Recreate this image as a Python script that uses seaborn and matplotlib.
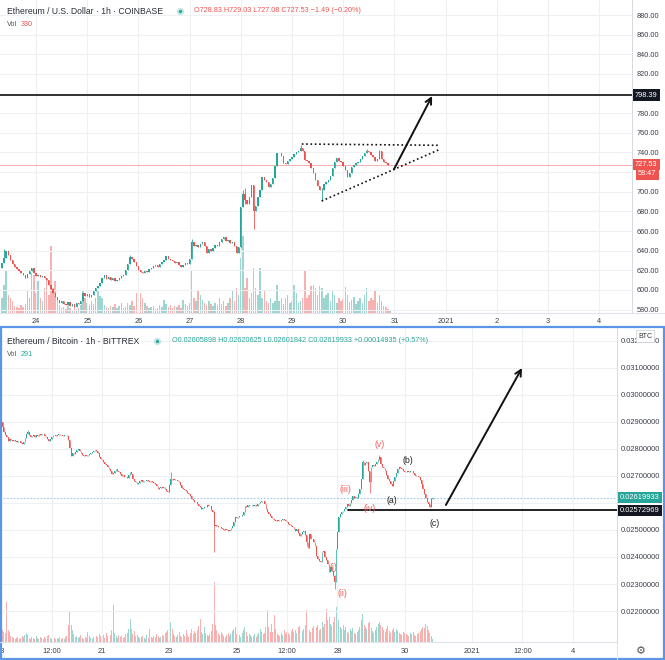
import numpy as np
import pandas as pd
import matplotlib
matplotlib.use("Agg")
import matplotlib.pyplot as plt
import matplotlib.transforms as mtransforms
import seaborn as sns

# ------------------------------------------------------------------ data
# ETH/USD hourly closes (Coinbase), starting Dec 23 08:00
top_close = [
    627, 633, 640, 636, 630, 626, 623, 621, 619, 617,
    615, 612, 616, 619, 622, 617, 614, 615, 613, 614,
    612, 610, 605, 601, 597, 593, 590, 587, 589, 586,
    585, 588, 584, 586, 583, 587, 586, 589, 597, 594,
    596, 593, 595, 599, 602, 604, 607, 612, 615, 611,
    613, 610, 612, 609, 610, 612, 614, 615, 620, 626,
    634, 631, 628, 624, 620, 618, 617, 619, 618, 621,
    622, 624, 625, 623, 626, 628, 630, 635, 632, 630,
    629, 627, 628, 625, 623, 625, 627, 626, 632, 649,
    645, 646, 644, 647, 649, 645, 638, 642, 640, 643,
    646, 645, 649, 652, 654, 650, 651, 648, 649, 645,
    638, 644, 684, 698, 692, 688, 695, 707, 680, 685,
    695, 702, 715, 712, 710, 705, 708, 714, 726, 739,
    739, 736, 729, 728, 731, 733, 735, 738, 740, 742,
    745, 741, 732, 731, 729, 724, 719, 712, 706, 702,
    702, 708, 710, 712, 716, 724, 730, 734, 731, 730,
    726, 722, 715, 719, 725, 727, 729, 730, 733, 736,
    739, 742, 740, 737, 735, 731, 733, 742, 733, 730,
    729, 727, 727.53,
]
top_first_open = 622
top_vol = [
    1500, 2800, 4200, 1800, 1500, 1200, 700, 600, 500, 800,
    600, 900, 2200, 1500, 4000, 3800, 2000, 3200, 1500, 1200,
    2500, 3500, 1800, 6700, 2500, 3200, 1200, 800, 500, 600,
    400, 700, 500, 300, 600, 400, 500, 800, 2200, 1500,
    1000, 800, 1200, 900, 1500, 2300, 1700, 1500, 800, 600,
    500, 700, 600, 900, 500, 700, 1000, 500, 600, 1000,
    800, 1200, 700, 2000, 900, 2000, 1500, 1000, 700, 500,
    600, 700, 400, 500, 800, 600, 1300, 900, 600, 800,
    500, 700, 600, 800, 500, 1300, 900, 700, 1000, 4200,
    1500, 1200, 2200, 1800, 1300, 1000, 800, 1200, 900, 700,
    1000, 800, 1500, 900, 1200, 700, 1000, 1500, 2200, 1200,
    2500, 1800, 5500, 7700, 2500, 3500, 1500, 2000, 4500, 2500,
    1800, 4500, 1500, 2200, 1200, 1000, 1500, 1000, 1200, 2800,
    1200, 1500, 900, 1500, 1800, 1000, 1200, 2800, 2000, 1000,
    1200, 1500, 4300, 1500, 1800, 2700, 2800, 2500, 1800, 2700,
    2500, 1500, 1800, 2000, 1200, 2200, 1800, 1000, 1500, 1200,
    1400, 2600, 1800, 1100, 1300, 1600, 900, 1200, 1500, 1000,
    1800, 2500, 1200, 1500, 1300, 2200, 1000, 1800, 1200, 700,
    600, 400, 330,
]
# notable wicks: hour index -> (high, low)
top_wicks = {1: (642, 627), 60: (636, 626), 89: (652, 632), 112: (684, 643),
             113: (702, 684), 114: (704, 688), 118: (690, 662), 140: (748, 742),
             150: (704, 691), 171: (744, 739), 177: (743, 733)}
top_tick_hours = [16, 40, 64, 88, 112, 136, 160, 184, 208, 232, 256, 280]
top_tick_labels = ["24", "25", "26", "27", "28", "29", "30", "31", "2021", "2", "3", "4"]
top_price_ticks = [580, 600, 620, 640, 660, 680, 700, 720, 740, 760, 780, 800, 820, 840, 860, 880]
top_resistance = 798.39
top_last = 727.53

# ETH/BTC hourly closes (Bittrex), starting Dec 18 00:00
bot_close = [
    0.02899, 0.02880, 0.02862, 0.02850, 0.02845, 0.02831, 0.02838, 0.02833, 0.02829, 0.02834,
    0.02830, 0.02826, 0.02831, 0.02828, 0.02822, 0.02818, 0.02826, 0.02840, 0.02855, 0.02862,
    0.02852, 0.02845, 0.02849, 0.02851, 0.02846, 0.02850, 0.02848, 0.02854, 0.02852, 0.02857,
    0.02855, 0.02849, 0.02843, 0.02836, 0.02830, 0.02838, 0.02846, 0.02853, 0.02852, 0.02848,
    0.02851, 0.02854, 0.02850, 0.02853, 0.02849, 0.02852, 0.02850, 0.02847, 0.02832, 0.02805,
    0.02775, 0.02786, 0.02781, 0.02790, 0.02798, 0.02800, 0.02792, 0.02784, 0.02777, 0.02775,
    0.02779, 0.02773, 0.02776, 0.02781, 0.02785, 0.02788, 0.02791, 0.02796, 0.02794, 0.02785,
    0.02770, 0.02764, 0.02758, 0.02751, 0.02745, 0.02739, 0.02733, 0.02726, 0.02718, 0.02707,
    0.02712, 0.02720, 0.02726, 0.02719, 0.02714, 0.02708, 0.02701, 0.02704, 0.02698, 0.02695,
    0.02693, 0.02702, 0.02714, 0.02707, 0.02690, 0.02683, 0.02676, 0.02670, 0.02674, 0.02680,
    0.02684, 0.02679, 0.02682, 0.02680, 0.02685, 0.02681, 0.02678, 0.02680, 0.02676, 0.02673,
    0.02670, 0.02662, 0.02652, 0.02656, 0.02660, 0.02655, 0.02658, 0.02650, 0.02643, 0.02640,
    0.02668, 0.02689, 0.02686, 0.02689, 0.02684, 0.02686, 0.02683, 0.02676, 0.02668, 0.02657,
    0.02652, 0.02648, 0.02645, 0.02638, 0.02633, 0.02627, 0.02615, 0.02610, 0.02602, 0.02605,
    0.02596, 0.02590, 0.02585, 0.02578, 0.02582, 0.02587, 0.02584, 0.02592, 0.02590, 0.02588,
    0.02575, 0.02566, 0.02516, 0.02520, 0.02516, 0.02512, 0.02510, 0.02506, 0.02504, 0.02500,
    0.02503, 0.02499, 0.02497, 0.02501, 0.02508, 0.02516, 0.02530, 0.02547, 0.02543, 0.02547,
    0.02551, 0.02553, 0.02556, 0.02566, 0.02590, 0.02587, 0.02592, 0.02588, 0.02590, 0.02594,
    0.02590, 0.02592, 0.02589, 0.02596, 0.02600, 0.02603, 0.02608, 0.02606, 0.02595, 0.02578,
    0.02568, 0.02559, 0.02552, 0.02546, 0.02541, 0.02538, 0.02535, 0.02538, 0.02535, 0.02533,
    0.02537, 0.02541, 0.02538, 0.02532, 0.02529, 0.02524, 0.02520, 0.02516, 0.02510, 0.02503,
    0.02497, 0.02502, 0.02490, 0.02478, 0.02485, 0.02492, 0.02497, 0.02480, 0.02454, 0.02435,
    0.02485, 0.02467, 0.02466, 0.02455, 0.02442, 0.02405, 0.02393, 0.02386, 0.02380, 0.02417,
    0.02423, 0.02399, 0.02390, 0.02374, 0.02343, 0.02362, 0.02350, 0.02331, 0.02306, 0.02430,
    0.02491, 0.02547, 0.02560, 0.02566, 0.02572, 0.02578, 0.02585, 0.02596, 0.02590, 0.02601,
    0.02610, 0.02627, 0.02618, 0.02624, 0.02620, 0.02635, 0.02652, 0.02689, 0.02751, 0.02742,
    0.02748, 0.02751, 0.02720, 0.02677, 0.02735, 0.02740, 0.02738, 0.02744, 0.02752, 0.02763,
    0.02769, 0.02744, 0.02735, 0.02728, 0.02720, 0.02705, 0.02690, 0.02683, 0.02672, 0.02664,
    0.02680, 0.02695, 0.02712, 0.02725, 0.02732, 0.02728, 0.02726, 0.02720, 0.02716, 0.02714,
    0.02718, 0.02714, 0.02717, 0.02720, 0.02712, 0.02705, 0.02701, 0.02699, 0.02695, 0.02684,
    0.02670, 0.02652, 0.02633, 0.02618, 0.02603, 0.02595, 0.02584, 0.02615, 0.02619933,
]
bot_first_open = 0.02910
bot_vol = [
    1700, 1200, 1000, 900, 4000, 1200, 1000, 600, 500, 400,
    300, 400, 500, 300, 400, 600, 500, 700, 900, 700,
    400, 300, 500, 400, 300, 600, 400, 300, 500, 400,
    300, 500, 400, 600, 700, 400, 300, 500, 400, 300,
    400, 300, 500, 300, 400, 300, 500, 600, 1700, 3000,
    1700, 1200, 800, 500, 600, 400, 500, 700, 400, 300,
    500, 400, 1000, 600, 400, 300, 500, 400, 600, 500,
    800, 600, 500, 700, 400, 900, 600, 800, 700, 1200,
    3700, 900, 600, 400, 700, 500, 600, 400, 500, 800,
    900, 1300, 2300, 1300, 800, 1100, 600, 700, 500, 400,
    500, 600, 400, 300, 700, 400, 1300, 500, 400, 600,
    500, 800, 600, 400, 500, 700, 600, 900, 1000, 1200,
    1500, 2000, 1300, 800, 600, 500, 700, 1000, 600, 500,
    800, 600, 1200, 700, 500, 900, 1300, 800, 1100, 900,
    1200, 1600, 2300, 1000, 800, 1500, 900, 700, 600, 800,
    1100, 1800, 6000, 1700, 1200, 900, 700, 1000, 800, 600,
    500, 700, 900, 600, 800, 1100, 1300, 1500, 800, 1000,
    700, 500, 900, 1200, 1500, 1000, 600, 800, 700, 500,
    600, 800, 500, 700, 900, 1300, 1000, 800, 900, 1500,
    3200, 1500, 1000, 1800, 1000, 2700, 1300, 800, 700, 600,
    900, 700, 1200, 800, 1000, 900, 700, 1100, 1300, 1000,
    1200, 900, 1500, 1600, 900, 1100, 1300, 1700, 3200, 1500,
    1200, 1000, 1400, 1600, 1000, 1500, 1700, 1200, 1300, 2000,
    1500, 1800, 3300, 2200, 2500, 1800, 1600, 2000, 2500, 3500,
    2800, 2200, 1500, 1300, 1700, 1200, 1500, 1000, 900, 1300,
    1100, 1400, 900, 800, 1000, 1200, 1500, 2200, 2800, 1700,
    1500, 1300, 1900, 2000, 1400, 1100, 900, 1200, 1500, 1800,
    2000, 1700, 1500, 1200, 1000, 1300, 1600, 1100, 900, 1200,
    1400, 1000, 1300, 1100, 900, 800, 700, 1000, 900, 800,
    700, 600, 900, 800, 1000, 700, 600, 800, 900, 1100,
    1300, 1500, 1400, 1800, 1600, 1200, 900, 600, 291,
]
bot_wicks = {0: (0.02912, 0.02890), 19: (0.02872, 0.02855), 121: (0.02716, 0.02668),
             152: (0.02570, 0.02417), 218: (0.02480, 0.02440), 238: (0.02335, 0.02281),
             258: (0.02760, 0.02689), 263: (0.02720, 0.02637), 270: (0.02779, 0.02760)}
bot_tick_hours = [0, 36, 72, 120, 168, 204, 240, 288, 336, 372, 408]
bot_tick_labels = ["18", "12:00", "21", "23", "25", "12:00", "28", "30", "2021", "12:00", "4"]
bot_price_ticks = [0.022, 0.023, 0.024, 0.025, 0.026, 0.027, 0.028, 0.029, 0.030, 0.031, 0.032]
bot_support = 0.02572969
bot_last = 0.02619933
wave_labels = ["(i)", "(ii)", "(iii)", "(iv)", "(v)", "(a)", "(b)", "(c)"]
wave_hours = [237.0, 243.7, 245.4, 263.2, 269.9, 278.7, 290.5, 309.6]
wave_prices = [0.02360, 0.022656, 0.026507, 0.025804, 0.028148, 0.026074, 0.027556, 0.025248]

# ------------------------------------------------------------------ style
sns.set_theme(style="white")
plt.rcParams["font.family"] = ["Liberation Sans", "DejaVu Sans"]
UP, DN = "#26a69a", "#ef5350"
GRID = "#eef0f4"
TXT = "#3a3e4a"

W, H = 665, 660
fig = plt.figure(figsize=(W / 100, H / 100), dpi=100, facecolor="white")


def rect(x0, y0, x1, y1):
    return [x0 / W, 1 - y1 / H, (x1 - x0) / W, (y1 - y0) / H]


def candles(ax, close, first_open, wicks, width, lw):
    close = np.asarray(close, float)
    opn = np.concatenate([[first_open], close[:-1]])
    x = np.arange(len(close))
    up = close >= opn
    hi = np.maximum(opn, close)
    lo = np.minimum(opn, close)
    for k, (a, b) in wicks.items():
        hi[k] = max(hi[k], a)
        lo[k] = min(lo[k], b)
    cols = np.where(up, UP, DN)
    ax.vlines(x, lo, hi, colors=cols, lw=lw, zorder=3)
    ax.bar(x, close - opn, bottom=opn, width=width, color=cols, linewidth=0, zorder=4)
    return x, up


def volume(vax, x, up, vol, width):
    df = pd.DataFrame({"h": x, "vol": vol, "dir": np.where(up, "up", "down")})
    sns.barplot(data=df, x="h", y="vol", hue="dir", palette={"up": UP, "down": DN},
                native_scale=True, dodge=False, width=width, errorbar=None,
                legend=False, saturation=1, alpha=0.45, linewidth=0,
                edgecolor="none", ax=vax)
    vax.set_xlabel("")
    vax.set_ylabel("")
    vax.yaxis.set_visible(False)
    for s in vax.spines.values():
        s.set_visible(False)


# ------------------------------------------------------------------ top pane
ax1 = fig.add_axes(rect(0, 0, 632, 313))
v1 = ax1.twinx()
v1.set_zorder(0)
ax1.set_zorder(1)
ax1.patch.set_visible(False)
x1, up1 = candles(ax1, top_close, top_first_open, top_wicks, 0.65, 0.6)
volume(v1, x1, up1, top_vol, 0.7)
v1.set_ylim(0, 31300)

ax1.set_xlim(-0.88, 295.4)
ax1.set_ylim(576.5, 895.3)
ax1.set_xticks(top_tick_hours)
ax1.set_xticklabels(top_tick_labels)
ax1.set_yticks(top_price_ticks)
ax1.set_yticklabels(["" if t in (720, 800) else f"{t:.2f}" for t in top_price_ticks])
ax1.yaxis.tick_right()
ax1.tick_params(axis="both", length=0, labelsize=5.3, colors=TXT)
ax1.tick_params(axis="x", pad=3.6)
ax1.tick_params(axis="y", pad=3.2)
ax1.grid(True, color=GRID, lw=0.8)
ax1.set_axisbelow(True)
for s in ["top", "left", "bottom"]:
    ax1.spines[s].set_visible(False)
ax1.spines["right"].set_color("#d6d9e0")
ax1.spines["right"].set_linewidth(0.7)

ax1.axhline(top_last, color=DN, lw=0.7, alpha=0.45, zorder=2)
ax1.axhline(top_resistance, color="#222", lw=1.3, zorder=5)
dot = (0, (1, 1.6))
ax1.plot([140.6, 205.4], [748.6, 747.3], color="#111", lw=1.2, ls=dot, zorder=5)
ax1.plot([149.9, 204.6], [690.6, 742.5], color="#111", lw=1.2, ls=dot, zorder=5)
ax1.annotate("", xy=(201.7, 797.5), xytext=(183.8, 722.9),
             arrowprops=dict(arrowstyle="->", lw=1.4, color="#111", mutation_scale=11,
                             shrinkA=0, shrinkB=0), zorder=6)

tr1 = mtransforms.blended_transform_factory(ax1.transAxes, ax1.transData)
ax1.text(1.0 + 3 / 632, top_resistance, f"{top_resistance:.2f}", transform=tr1, ha="left",
         va="center", fontsize=5.3, color="white", clip_on=False, zorder=10,
         bbox=dict(boxstyle="square,pad=0.3", fc="#131722", ec="none"))
ax1.text(1.0 + 3 / 632, top_last, f"{top_last:.2f}", transform=tr1, ha="left",
         va="center", fontsize=5.3, color="white", clip_on=False, zorder=10,
         bbox=dict(boxstyle="square,pad=0.3", fc=DN, ec="none"))
ax1.text(1.0 + 6 / 632, top_last - 9.3, "58:47", transform=tr1, ha="left",
         va="center", fontsize=5.3, color="white", clip_on=False, zorder=10,
         bbox=dict(boxstyle="square,pad=0.3", fc=DN, ec="none"))

# ------------------------------------------------------------------ bottom pane
ax2 = fig.add_axes(rect(0, 328, 617, 642))
v2 = ax2.twinx()
v2.set_zorder(0)
ax2.set_zorder(1)
ax2.patch.set_visible(False)
x2, up2 = candles(ax2, bot_close, bot_first_open, bot_wicks, 0.6, 0.5)
volume(v2, x2, up2, bot_vol, 0.7)
v2.set_ylim(0, 31400)

ax2.set_xlim(-0.785, 439.5)
ax2.set_ylim(0.020852, 0.032481)
ax2.set_xticks(bot_tick_hours)
ax2.set_xticklabels(bot_tick_labels)
ax2.set_yticks(bot_price_ticks)
ax2.set_yticklabels(["" if abs(t - 0.026) < 1e-9 else f"{t:.8f}" for t in bot_price_ticks])
ax2.yaxis.tick_right()
ax2.tick_params(axis="both", length=0, labelsize=5.4, colors=TXT)
ax2.tick_params(axis="x", pad=4.0)
ax2.tick_params(axis="y", pad=2.4)
ax2.grid(True, color=GRID, lw=0.8)
ax2.set_axisbelow(True)
for s in ["top", "left", "bottom"]:
    ax2.spines[s].set_visible(False)
ax2.spines["right"].set_color("#d6d9e0")
ax2.spines["right"].set_linewidth(0.7)

ax2.axhline(bot_last, color="#9fc9e6", lw=0.8, ls=(0, (1.5, 1.5)), zorder=2)
ax2.plot([247.5, 439.5], [bot_support, bot_support], color="#111", lw=1.3, zorder=5)
ax2.annotate("", xy=(371.7, 0.03100), xytext=(317.4, 0.025926),
             arrowprops=dict(arrowstyle="->", lw=1.4, color="#111", mutation_scale=11,
                             shrinkA=0, shrinkB=0), zorder=6)
for lab, hh, pp in zip(wave_labels, wave_hours, wave_prices):
    col = "#222" if lab in ("(a)", "(b)", "(c)") else "#e8605c"
    ax2.text(hh, pp, lab, ha="center", va="center", fontsize=6.3, color=col, zorder=7)

tr2 = mtransforms.blended_transform_factory(ax2.transAxes, ax2.transData)
ax2.text(1.0 + 3 / 617, bot_last, f"{bot_last:.8f}", transform=tr2, ha="left",
         va="center", fontsize=5.4, color="white", clip_on=False, zorder=10,
         bbox=dict(boxstyle="square,pad=0.25", fc=UP, ec="none"))
ax2.text(1.0 + 3 / 617, bot_support, f"{bot_support:.8f}", transform=tr2, ha="left",
         va="center", fontsize=5.4, color="white", clip_on=False, zorder=10,
         bbox=dict(boxstyle="square,pad=0.25", fc="#131722", ec="none"))

# ------------------------------------------------------------------ overlay (UI chrome, headers)
ov = fig.add_axes([0, 0, 1, 1], zorder=20)
ov.set_xlim(0, W)
ov.set_ylim(H, 0)
ov.axis("off")
ov.patch.set_visible(False)

# separators
ov.plot([0, W], [313, 313], color="#e0e3eb", lw=0.8)
ov.plot([0, 617], [642, 642], color="#e0e3eb", lw=0.8)
ov.plot([617, 617], [642, 659], color="#e0e3eb", lw=0.8)
ov.add_patch(plt.Rectangle((1, 327), W - 2, H - 328, fill=False, ec="#5b95e6", lw=1.6))

# headers
ov.text(7, 11, "Ethereum / U.S. Dollar · 1h · COINBASE", fontsize=6.2, color="#2a2e39",
        va="center", ha="left")
ov.scatter([180], [11], s=14, color=UP, edgecolors="#bfe6e2", linewidths=1.4, zorder=5)
ov.text(194, 11, "O728.83 H729.03 L727.08 C727.53 −1.49 (−0.20%)", fontsize=5.2, color=DN,
        va="center", ha="left")
ov.text(7, 25, "Vol", fontsize=5.2, color="#555", va="center", ha="left")
ov.text(21, 25, "330", fontsize=5.2, color=DN, va="center", ha="left")

ov.text(7, 341, "Ethereum / Bitcoin · 1h · BITTREX", fontsize=6.2, color="#2a2e39",
        va="center", ha="left")
ov.scatter([157], [341], s=14, color=UP, edgecolors="#bfe6e2", linewidths=1.4, zorder=5)
ov.text(172, 341, "O0.02605898 H0.02620625 L0.02601842 C0.02619933 +0.00014935 (+0.57%)",
        fontsize=5.2, color=UP, va="center", ha="left")
ov.text(7, 355, "Vol", fontsize=5.2, color="#555", va="center", ha="left")
ov.text(21, 355, "291", fontsize=5.2, color=UP, va="center", ha="left")

ov.text(645, 336, "BTC", fontsize=5.0, color="#333", va="center", ha="center",
        bbox=dict(boxstyle="square,pad=0.35", fc="white", ec="#d0d3da", lw=0.6))
ov.text(641, 651, "⚙", fontsize=8, color="#555", va="center", ha="center")

fig.savefig("out.png", dpi=100, facecolor="white")
